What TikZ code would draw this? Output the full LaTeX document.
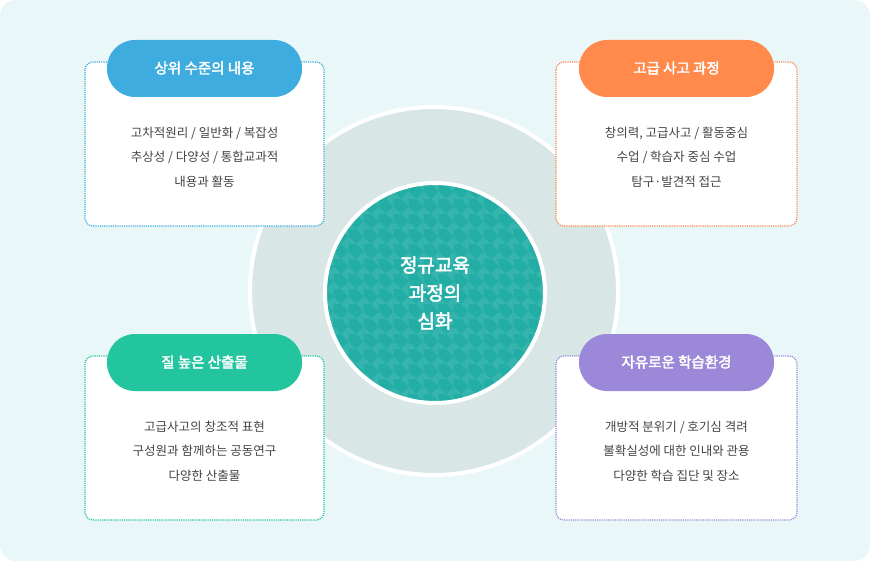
\documentclass[tikz,border=0pt]{standalone}
\usepackage{fontspec}
\setmainfont{Noto Sans CJK KR}[AutoFakeBold=2.5]
\definecolor{bg}{HTML}{EAF7F9}
\definecolor{ring}{HTML}{D8E6E6}
\definecolor{teal}{HTML}{22ADA5}
\definecolor{teall}{HTML}{36B5AE}
\definecolor{cblue}{HTML}{3EACDE}
\definecolor{corange}{HTML}{FF8A4C}
\definecolor{cgreen}{HTML}{22C59D}
\definecolor{cpurple}{HTML}{9B88D9}
\definecolor{txt}{HTML}{444444}
\tikzset{x=1pt,y=-1pt,
 card/.style={draw=#1,fill=white,densely dotted,line width=1.2pt,rounded corners=8pt},
 pill/.style={fill=#1,rounded corners=28pt},
 ptext/.style={text=white,font=\bfseries\fontsize{14.5}{16}\selectfont},
 body/.style={text=txt,font=\fontsize{12.5}{24.5}\selectfont,align=center}}
\begin{document}
\begin{tikzpicture}
\useasboundingbox (0,0) rectangle (870,561);
\fill[bg,rounded corners=16pt] (0,0) rectangle (870,561);
\node[circle,fill=ring,draw=white,line width=4pt,minimum size=368pt,inner sep=0] (ring) at (434,291) {};
\begin{scope}
\clip (435,293) circle (109);
\fill[teal] (326,184) rectangle (544,402);
\foreach \i in {0,...,15}{\foreach \j in {0,...,15}{
 \fill[teall] ({326+\i*15},{184+\j*15}) -- ++(7.5,7.5) -- ++(0,-15) -- cycle;
 \fill[teall] ({326+\i*15+7.5},{184+\j*15+7.5}) -- ++(7.5,7.5) -- ++(-7.5,0) -- cycle;
}}
\end{scope}
\node[circle,draw=white,line width=4pt,minimum size=220pt,inner sep=0,align=center,text=white,font=\bfseries\fontsize{19}{28}\selectfont] (core) at (435,293) {정규교육\\과정의\\심화};
% cards
\draw[card=cblue] (85,62) rectangle (324,226);
\draw[card=corange] (556,62) rectangle (797,226);
\draw[card=cgreen] (85,356) rectangle (324,520);
\draw[card=cpurple] (556,356) rectangle (797,520);
\fill[pill=cblue] (107,40) rectangle (302,97);
\fill[pill=corange] (579,40) rectangle (774,97);
\fill[pill=cgreen] (107,334) rectangle (302,391);
\fill[pill=cpurple] (579,334) rectangle (774,391);
\node[ptext] (t1) at (204.5,68) {상위 수준의 내용};
\node[ptext] (t2) at (676.5,68) {고급 사고 과정};
\node[ptext] (t3) at (204.5,362) {질 높은 산출물};
\node[ptext] (t4) at (676.5,362) {자유로운 학습환경};
\node[body] (b1) at (204.5,157) {고차적원리 / 일반화 / 복잡성\\추상성 / 다양성 / 통합교과적\\내용과 활동};
\node[body] (b2) at (676.5,157) {창의력, 고급사고 / 활동중심\\수업 / 학습자 중심 수업\\탐구·발견적 접근};
\node[body] (b3) at (204.5,451) {고급사고의 창조적 표현\\구성원과 함께하는 공동연구\\다양한 산출물};
\node[body] (b4) at (676.5,451) {개방적 분위기 / 호기심 격려\\불확실성에 대한 인내와 관용\\다양한 학습 집단 및 장소};
\end{tikzpicture}
\end{document}
